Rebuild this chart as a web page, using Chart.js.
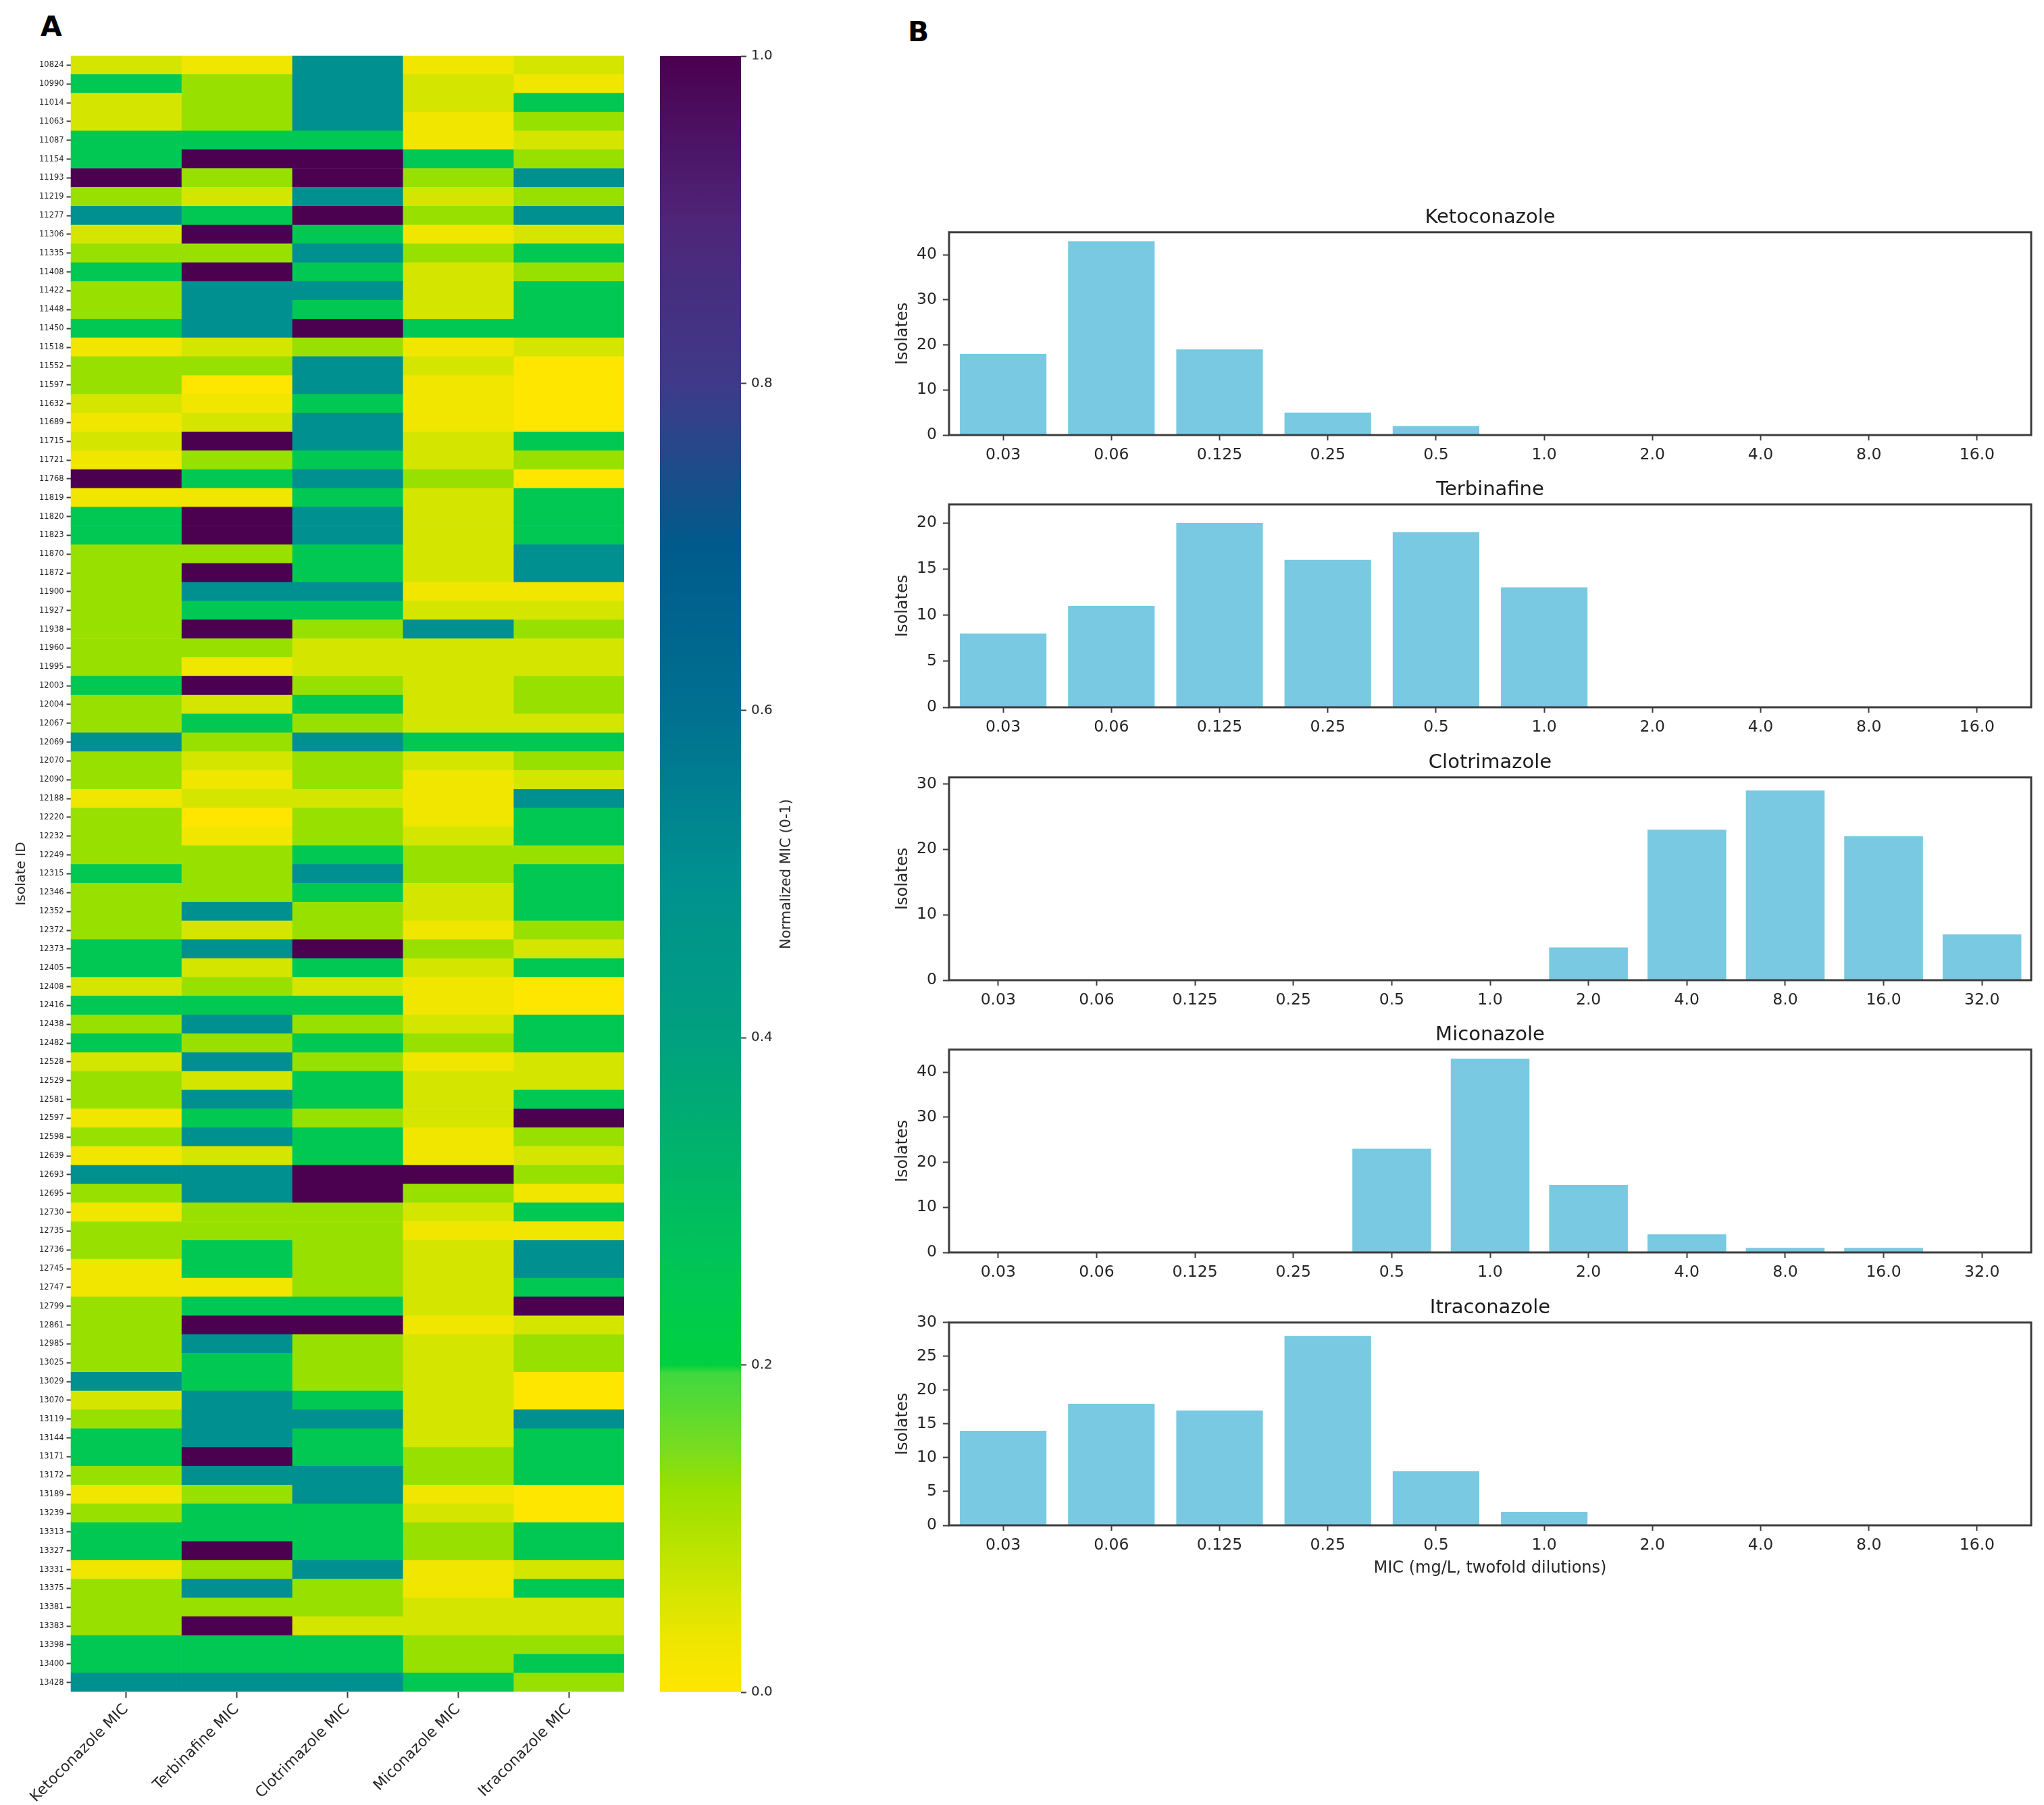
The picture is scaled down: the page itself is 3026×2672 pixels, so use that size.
<!DOCTYPE html>
<html>
<head>
<meta charset="utf-8">
<title>MIC heatmap and distributions</title>
<script src="https://cdn.jsdelivr.net/npm/chart.js@4/dist/chart.umd.min.js"></script>
<style>
  html, body { margin: 0; padding: 0; background: #fff; overflow: hidden; }
  #page { position: relative; width: 3026px; height: 2672px; font-family: "DejaVu Sans", sans-serif; color: #262626; }
  canvas { position: absolute; display: block; }
  .panel-tag { position: absolute; font-weight: bold; font-size: 41px; line-height: 41px; color: #000; }
  #cbar_label { position: absolute; left: 1163px; top: 1294px; font-size: 21px; white-space: nowrap; transform: translate(-50%, -50%) rotate(-90deg); }
</style>
</head>
<body>
<div id="page">
  <div class="panel-tag" style="left:60px;top:19px">A</div>
  <div class="panel-tag" style="left:1344px;top:27px">B</div>
  <canvas id="heat" width="950" height="2612" style="left:0;top:60px"></canvas>
  <canvas id="cbar" width="200" height="2470" style="left:960px;top:60px"></canvas>
  <div id="cbar_label">Normalized MIC (0-1)</div>
  <canvas id="bar_keto" width="1726" height="404" style="left:1300px;top:300px"></canvas>
  <canvas id="bar_terb" width="1726" height="404" style="left:1300px;top:703px"></canvas>
  <canvas id="bar_clot" width="1726" height="404" style="left:1300px;top:1107px"></canvas>
  <canvas id="bar_mico" width="1726" height="404" style="left:1300px;top:1510px"></canvas>
  <canvas id="bar_itra" width="1726" height="434" style="left:1300px;top:1914px"></canvas>
</div>
<script>
var isolates = [
  '10824','10990','11014','11063','11087','11154','11193','11219','11277','11306',
  '11335','11408','11422','11448','11450','11518','11552','11597','11632','11689',
  '11715','11721','11768','11819','11820','11823','11870','11872','11900','11927',
  '11938','11960','11995','12003','12004','12067','12069','12070','12090','12188',
  '12220','12232','12249','12315','12346','12352','12372','12373','12405','12408',
  '12416','12438','12482','12528','12529','12581','12597','12598','12639','12693',
  '12695','12730','12735','12736','12745','12747','12799','12861','12985','13025',
  '13029','13070','13119','13144','13171','13172','13189','13239','13313','13327',
  '13331','13375','13381','13383','13398','13400','13428'
];
var heat_columns = ['Ketoconazole MIC','Terbinafine MIC','Clotrimazole MIC','Miconazole MIC','Itraconazole MIC'];

// normalized MIC, one value per isolate
var keto_norm = [
  .06,.25,.06,.06,.25,.25,1,.125,.5,.06,
  .125,.25,.125,.125,.25,.03,.125,.125,.06,.03,
  .06,.03,1,.03,.25,.25,.125,.125,.125,.125,
  .125,.125,.125,.25,.125,.125,.5,.125,.125,.03,
  .125,.125,.125,.25,.125,.125,.125,.25,.25,.06,
  .25,.125,.25,.06,.125,.125,.03,.125,.03,.5,
  .125,.03,.125,.125,.03,.03,.125,.125,.125,.125,
  .5,.06,.125,.25,.25,.125,.03,.125,.25,.25,
  .03,.125,.125,.125,.25,.25,.5
];
var terb_norm = [
  .03,.125,.125,.125,.25,1,.125,.06,.25,1,
  .125,1,.5,.5,.5,.06,.125,0,.03,.06,
  1,.125,.25,.03,1,1,.125,1,.5,.25,
  1,.125,.03,1,.06,.25,.125,.06,.03,.06,
  0,.03,.125,.125,.125,.5,.06,.5,.06,.125,
  .25,.5,.125,.5,.06,.5,.25,.5,.06,.5,
  .5,.125,.125,.25,.25,.03,.25,1,.5,.25,
  .25,.5,.5,.5,1,.5,.125,.25,.25,1,
  .125,.5,.125,1,.25,.25,.5
];
var clot_norm = [
  .5,.5,.5,.5,.25,1,1,.5,1,.25,
  .5,.25,.5,.25,1,.125,.5,.5,.25,.5,
  .5,.25,.5,.25,.5,.5,.25,.25,.5,.25,
  .125,.06,.06,.125,.25,.125,.5,.125,.125,.06,
  .125,.125,.25,.5,.25,.125,.125,1,.25,.06,
  .25,.125,.25,.125,.25,.25,.125,.25,.25,1,
  1,.125,.125,.125,.125,.125,.25,1,.125,.125,
  .125,.25,.5,.25,.25,.5,.5,.25,.25,.25,
  .5,.125,.125,.06,.25,.25,.5
];
var mico_norm = [
  .03,.06,.06,.03,.03,.25,.125,.06,.125,.03,
  .125,.06,.06,.06,.25,.03,.06,.03,.03,.03,
  .06,.06,.125,.06,.06,.06,.06,.06,.03,.06,
  .5,.06,.06,.06,.06,.06,.25,.06,.03,.03,
  .03,.06,.125,.125,.06,.06,.03,.125,.06,.03,
  .03,.06,.125,.03,.06,.06,.06,.03,.03,1,
  .125,.06,.03,.06,.06,.06,.06,.03,.06,.06,
  .06,.06,.06,.06,.125,.125,.03,.06,.125,.125,
  .03,.03,.06,.06,.125,.125,.25
];
var itra_norm = [
  .06,.03,.25,.125,.06,.125,.5,.125,.5,.06,
  .25,.125,.25,.25,.25,.06,0,0,0,0,
  .25,.125,0,.25,.25,.25,.5,.5,.03,.06,
  .125,.06,.06,.125,.125,.06,.25,.125,.06,.5,
  .25,.25,.125,.25,.25,.25,.125,.06,.25,0,
  0,.25,.25,.06,.06,.25,1,.125,.06,.125,
  .03,.25,.03,.5,.5,.25,1,.06,.125,.125,
  0,0,.5,.25,.25,.25,0,0,.25,.25,
  .06,.25,.06,.06,.125,.25,.125
];

var dilutions_10 = ['0.03','0.06','0.125','0.25','0.5','1.0','2.0','4.0','8.0','16.0'];
var dilutions_11 = ['0.03','0.06','0.125','0.25','0.5','1.0','2.0','4.0','8.0','16.0','32.0'];

var keto_counts = [18,43,19,5,2,0,0,0,0,0];
var terb_counts = [8,11,20,16,19,13,0,0,0,0];
var clot_counts = [0,0,0,0,0,0,5,23,29,22,7];
var mico_counts = [0,0,0,0,23,43,15,4,1,1,0];
var itra_counts = [14,18,17,28,8,2,0,0,0,0];

var cmap_pos = [0, .03, .06, .125, .15, .195, .2, .25, .4, .5, .6, .7, .8, .9, 1];
var cmap_col = ['#ffe600','#f0e600','#d4e600','#98e000','#78dc20','#40d840','#00d040','#00c853',
  '#00a080','#009090','#007090','#005b8c','#3e3a88','#4e2578','#4b0050'];

Chart.defaults.font.family = '"DejaVu Sans", sans-serif';
Chart.defaults.color = '#262626';
Chart.defaults.animation = false;
Chart.defaults.responsive = false;
Chart.defaults.plugins.legend.display = false;
Chart.defaults.plugins.tooltip.enabled = false;

const axis_col = '#3c3c3c';

function hexToRgb(h) {
  return [parseInt(h.slice(1,3),16), parseInt(h.slice(3,5),16), parseInt(h.slice(5,7),16)];
}

function cmapColor(v) {
  for (let i = 1; i < cmap_pos.length; i++) {
    if (v <= cmap_pos[i]) {
      let t = (v - cmap_pos[i-1]) / (cmap_pos[i] - cmap_pos[i-1]);
      let a = hexToRgb(cmap_col[i-1]), b = hexToRgb(cmap_col[i]);
      return 'rgb(' + a.map((c,k) => Math.round(c + (b[k]-c)*t)).join(',') + ')';
    }
  }
  return cmap_col[cmap_col.length-1];
}

// top and right spines etc, the axes only draw ticks
const frame_plugin = {
  id: 'frame',
  afterDatasetsDraw(chart) {
    const a = chart.chartArea, c = chart.ctx;
    c.save();
    c.strokeStyle = axis_col;
    c.lineWidth = 3;
    c.strokeRect(a.left, a.top, a.right - a.left, a.bottom - a.top);
    c.restore();
  }
};

// heatmap: one floating bar per isolate, one dataset per drug
const heat_values = [keto_norm, terb_norm, clot_norm, mico_norm, itra_norm];
new Chart(document.getElementById('heat'), {
  type: 'bar',
  data: {
    labels: isolates,
    datasets: heat_values.map((vals, c) => ({
      label: heat_columns[c],
      data: vals.map(() => [c, c + 1]),
      backgroundColor: vals.map(cmapColor),
      borderWidth: 0,
      grouped: false,
      barPercentage: 1,
      categoryPercentage: 1
    }))
  },
  options: {
    indexAxis: 'y',
    layout: { padding: { top: 22.5, right: 26 } },
    scales: {
      x: {
        type: 'linear', min: 0, max: 5,
        afterBuildTicks: s => { s.ticks = heat_columns.map((n, i) => ({ value: i + .5 })); },
        afterFit: s => { s.height = 167.5; },
        border: { display: false },
        grid: { drawOnChartArea: false, tickLength: 9, tickWidth: 2, tickColor: axis_col },
        ticks: {
          autoSkip: false, minRotation: 45, maxRotation: 45, padding: 4,
          font: { size: 22 },
          callback: (v, i) => heat_columns[i]
        }
      },
      y: {
        afterFit: s => { s.width = 104.6; },
        border: { display: false },
        grid: { offset: false, drawOnChartArea: false, tickLength: 6, tickWidth: 2, tickColor: axis_col },
        title: { display: true, text: 'Isolate ID', font: { size: 20 }, padding: { top: 20, bottom: 0 } },
        ticks: { autoSkip: false, padding: 4, font: { size: 11.5 } }
      }
    }
  }
});

// colour bar, a single bar from 0 to 1 filled through the y scale
new Chart(document.getElementById('cbar'), {
  type: 'bar',
  data: {
    labels: ['MIC'],
    datasets: [{
      data: [[0, 1]],
      borderWidth: 0,
      barPercentage: 1,
      categoryPercentage: 1,
      backgroundColor: (ctx) => {
        const area = ctx.chart.chartArea;
        if (!area) return cmap_col[0];
        const y = ctx.chart.scales.y;
        const g = ctx.chart.ctx.createLinearGradient(0, y.getPixelForValue(0), 0, y.getPixelForValue(1));
        cmap_pos.forEach((p, i) => g.addColorStop(p, cmap_col[i]));
        return g;
      }
    }]
  },
  options: {
    layout: { padding: { top: 23, left: 17, bottom: 25 } },
    scales: {
      x: { display: false },
      y: {
        position: 'right', min: 0, max: 1,
        afterFit: s => { s.width = 63; },
        border: { display: false },
        grid: { drawOnChartArea: false, tickLength: 8, tickWidth: 2, tickColor: axis_col },
        ticks: { stepSize: .2, padding: 7, font: { size: 20 }, callback: v => v.toFixed(1) }
      }
    }
  }
});

function drawBars(id, title, labels, counts, y_max, y_step, x_title) {
  new Chart(document.getElementById(id), {
    type: 'bar',
    plugins: [frame_plugin],
    data: {
      labels: labels,
      datasets: [{
        data: counts,
        backgroundColor: 'rgb(120,201,225)',
        borderWidth: 0,
        barPercentage: .8,
        categoryPercentage: 1
      }]
    },
    options: {
      layout: { padding: { right: 19 } },
      plugins: {
        title: {
          display: true, text: title, fullSize: false, color: '#1c1c1c',
          font: { size: 29, weight: 'normal' },
          padding: { top: 5, bottom: 4 }
        }
      },
      scales: {
        x: {
          afterFit: s => { s.height = x_title ? 90 : 60; },
          border: { display: false },
          grid: { offset: false, drawOnChartArea: false, tickLength: 8, tickWidth: 2, tickColor: axis_col },
          title: { display: !!x_title, text: x_title, font: { size: 24 }, padding: { top: 0, bottom: 12 } },
          ticks: { autoSkip: false, maxRotation: 0, padding: 8, font: { size: 23.5 } }
        },
        y: {
          min: 0, max: y_max,
          afterFit: s => { s.width = 105; },
          // ylim is not a round number, so build the multiples of the step by hand
          afterBuildTicks: s => {
            s.ticks = [];
            for (let v = 0; v <= y_max; v += y_step) s.ticks.push({ value: v });
          },
          border: { display: false },
          grid: { drawOnChartArea: false, tickLength: 9, tickWidth: 2, tickColor: axis_col },
          title: { display: true, text: 'Isolates', font: { size: 24 }, padding: { top: 22, bottom: 0 } },
          ticks: { padding: 9, font: { size: 23.5 } }
        }
      }
    }
  });
}

drawBars('bar_keto', 'Ketoconazole', dilutions_10, keto_counts, 45, 10);
drawBars('bar_terb', 'Terbinafine', dilutions_10, terb_counts, 22, 5);
drawBars('bar_clot', 'Clotrimazole', dilutions_11, clot_counts, 31, 10);
drawBars('bar_mico', 'Miconazole', dilutions_11, mico_counts, 45, 10);
drawBars('bar_itra', 'Itraconazole', dilutions_10, itra_counts, 30, 5, 'MIC (mg/L, twofold dilutions)');
</script>
</body>
</html>
